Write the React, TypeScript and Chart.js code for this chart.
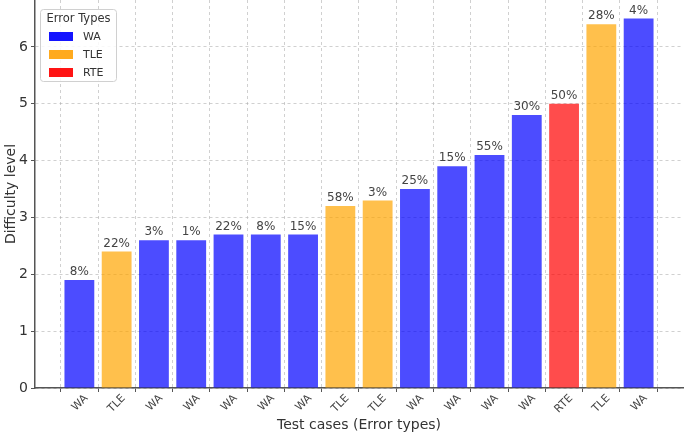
import React, { useEffect, useRef } from "react";
import { Chart, registerables } from "chart.js";

Chart.register(...registerables);

const categories = ["WA", "TLE", "WA", "WA", "WA", "WA", "WA", "TLE", "TLE", "WA", "WA", "WA", "WA", "RTE", "TLE", "WA"];
const difficulty = [1.9, 2.4, 2.6, 2.6, 2.7, 2.7, 2.7, 3.2, 3.3, 3.5, 3.9, 4.1, 4.8, 5.0, 6.4, 6.5];
const percentages = ["8%", "22%", "3%", "1%", "22%", "8%", "15%", "58%", "3%", "25%", "15%", "55%", "30%", "50%", "28%", "4%"];
const errorTypes = ["WA", "TLE", "RTE"];
const barColors: Record<string, string> = {
  WA: "rgba(0,0,255,0.7)",
  TLE: "rgba(255,165,0,0.7)",
  RTE: "rgba(255,0,0,0.7)",
};
const legendColors: Record<string, string> = {
  WA: "rgb(20,20,255)",
  TLE: "rgb(255,170,30)",
  RTE: "rgb(255,20,20)",
};

const FONT = "'DejaVu Sans', sans-serif";

export default function App() {
  const ref = useRef<HTMLCanvasElement | null>(null);
  useEffect(() => {
    document.body.style.margin = "0";
    const canvas = ref.current!;
    const labelPlugin = {
      id: "barLabels",
      afterDatasetsDraw(chart: any) {
        const ctx = chart.ctx;
        const meta = chart.getDatasetMeta(0);
        ctx.save();
        ctx.font = `12px ${FONT}`;
        ctx.fillStyle = "#444";
        ctx.textAlign = "center";
        ctx.textBaseline = "bottom";
        meta.data.forEach((bar: any, i: number) => {
          ctx.fillText(percentages[i], bar.x, bar.y - 2);
        });
        ctx.restore();
      },
      afterDraw(chart: any) {
        const ctx = chart.ctx;
        const x0 = 40, y0 = 9, w = 76, h = 72;
        ctx.save();
        ctx.fillStyle = "rgba(255,255,255,0.85)";
        ctx.strokeStyle = "#d0d0d0";
        ctx.lineWidth = 1;
        ctx.beginPath();
        (ctx as any).roundRect(x0 + 0.5, y0 + 0.5, w, h, 3);
        ctx.fill();
        ctx.stroke();
        ctx.font = `11.5px ${FONT}`;
        ctx.fillStyle = "#333";
        ctx.textAlign = "center";
        ctx.textBaseline = "middle";
        ctx.fillText("Error Types", x0 + w / 2 + 0.5, y0 + 10);
        ctx.textAlign = "left";
        ctx.font = `11px ${FONT}`;
        errorTypes.forEach((t, i) => {
          const cy = y0 + 27 + i * 18;
          ctx.fillStyle = legendColors[t];
          ctx.fillRect(x0 + 9, cy - 4, 24, 9);
          ctx.fillStyle = "#333";
          ctx.fillText(t, x0 + 43, cy + 1);
        });
        ctx.restore();
      },
    };
    const gridOpts: any = {
      color: "rgba(170,170,170,0.55)",
      tickColor: "#555",
      tickLength: 4,
      tickBorderDash: [],
    };
    const chart = new Chart(canvas, {
      type: "bar",
      data: {
        datasets: [
          {
            data: difficulty.map((v, i) => ({ x: i, y: v })),
            backgroundColor: categories.map((c) => barColors[c]),
            borderWidth: 0,
            barPercentage: 0.8,
            categoryPercentage: 1,
          },
        ],
      },
      options: {
        responsive: false,
        animation: false,
        devicePixelRatio: 1,
        layout: { padding: { top: 0, right: 2, left: 0, bottom: 0 } },
        plugins: { legend: { display: false }, tooltip: { enabled: false } },
        scales: {
          x: {
            type: "linear",
            offset: false,
            min: -1.19,
            max: 16.19,
            afterBuildTicks: (s: any) => {
              s.ticks = categories.map((_, i) => ({ value: i }));
            },
            afterFit: (s: any) => {
              s.height = 49;
              s.paddingLeft = 0;
              s.paddingRight = 0;
            },
            ticks: {
              autoSkip: false,
              maxRotation: 45,
              minRotation: 45,
              labelOffset: 7,
              padding: 0,
              font: { family: FONT, size: 11 },
              color: "#444",
              callback: (v: any) => categories[v as number] ?? "",
            },
            grid: gridOpts,
            border: { color: "#555", width: 1.5, dash: [3, 3] },
            title: {
              display: true,
              text: "Test cases (Error types)",
              font: { family: FONT, size: 14 },
              color: "#333",
              padding: { top: 0, bottom: 3 },
            },
          },
          y: {
            min: 0,
            max: 6.825,
            afterBuildTicks: (s: any) => {
              s.ticks = s.ticks.filter((t: any) => Number.isInteger(t.value));
            },
            afterFit: (s: any) => {
              s.width = 35;
              s.paddingTop = 0;
              s.paddingBottom = 0;
            },
            ticks: {
              stepSize: 1,
              font: { family: FONT, size: 14 },
              color: "#333",
              padding: 3,
            },
            grid: gridOpts,
            border: { color: "#555", width: 1.5, dash: [3, 3] },
            title: {
              display: true,
              text: "Difficulty level",
              font: { family: FONT, size: 14 },
              color: "#333",
              padding: { top: 3, bottom: 0 },
            },
          },
        },
      },
      plugins: [labelPlugin],
    });
    return () => chart.destroy();
  }, []);
  return (
    <div style={{ width: 685, height: 437, background: "#fff" }}>
      <canvas ref={ref} width={685} height={437} style={{ display: "block" }} />
    </div>
  );
}
